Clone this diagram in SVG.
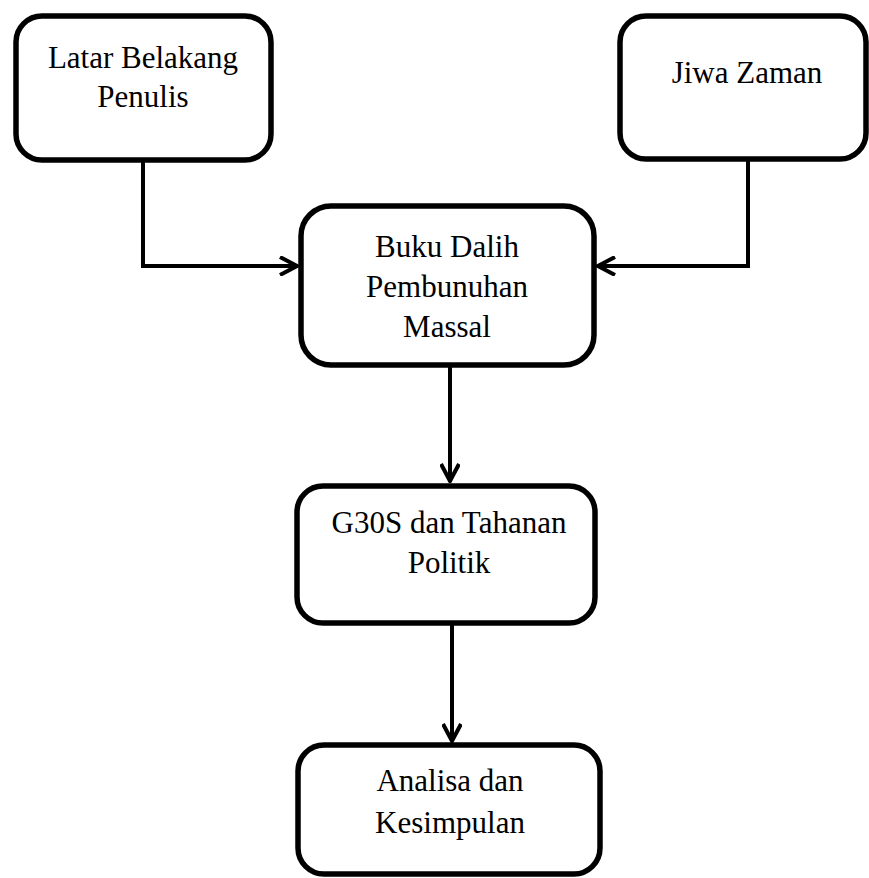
<svg xmlns="http://www.w3.org/2000/svg" width="869" height="878" viewBox="0 0 869 878">
<style>
.box{fill:#fff;stroke:#000;stroke-width:5.5}
.lbl{font-family:"Liberation Serif","Times New Roman",serif;font-size:31px;fill:#000;text-anchor:middle}
.con{fill:none;stroke:#000;stroke-width:4}
</style>
<defs>
<marker id="arr" viewBox="0 0 20 20" markerWidth="20" markerHeight="20" markerUnits="userSpaceOnUse" refX="18" refY="10" orient="auto">
<path d="M1,1 L18,10 L1,19" fill="none" stroke="#000" stroke-width="4"/>
</marker>
</defs>
<rect width="869" height="878" fill="#fff"/>
<g id="connectors">
<path class="con" d="M143,160 V266 H297" marker-end="url(#arr)"/>
<path class="con" d="M748,159 V266 H598" marker-end="url(#arr)"/>
<path class="con" d="M450,365 V481" marker-end="url(#arr)"/>
<path class="con" d="M452,623 V741" marker-end="url(#arr)"/>
</g>
<g id="latar">
<rect class="box" x="16" y="16" width="255" height="144" rx="26"/>
<text class="lbl" x="143" y="68">Latar Belakang</text>
<text class="lbl" x="143" y="107">Penulis</text>
</g>
<g id="jiwa">
<rect class="box" x="620" y="16" width="246" height="143" rx="26"/>
<text class="lbl" x="747" y="83">Jiwa Zaman</text>
</g>
<g id="buku">
<rect class="box" x="301" y="206" width="293" height="159" rx="30"/>
<text class="lbl" x="447" y="257">Buku Dalih</text>
<text class="lbl" x="447" y="297">Pembunuhan</text>
<text class="lbl" x="447" y="337">Massal</text>
</g>
<g id="g30s">
<rect class="box" x="297" y="486" width="298" height="137" rx="26"/>
<text class="lbl" x="449" y="533">G30S dan Tahanan</text>
<text class="lbl" x="449" y="573">Politik</text>
</g>
<g id="analisa">
<rect class="box" x="298" y="745" width="302" height="129" rx="26"/>
<text class="lbl" x="450" y="791">Analisa dan</text>
<text class="lbl" x="450" y="833">Kesimpulan</text>
</g>
</svg>
